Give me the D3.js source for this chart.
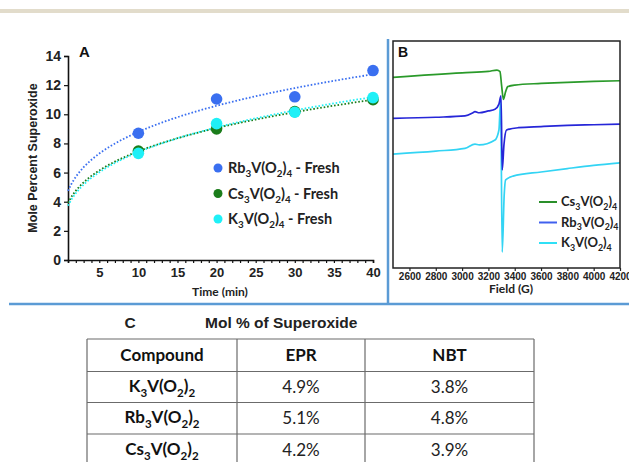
<!DOCTYPE html>
<html>
<head>
<meta charset="utf-8">
<script src="https://cdn.jsdelivr.net/npm/d3@7"></script>
<style>
  body { margin: 0; background: #fff; }
  svg { display: block; }
</style>
</head>
<body>
<div id="chart"></div>
<script>
// ---- panel A data: mole percent superoxide vs time ----
var timeMin = [10, 20, 30, 40];
var rbFresh = [8.7, 11.05, 11.2, 13.0];
var csFresh = [7.48, 9.0, 10.18, 11.0];
var kFresh  = [7.32, 9.36, 10.14, 11.14];
var timeTicks = [5, 10, 15, 20, 25, 30, 35, 40];
var pctTicks = [0, 2, 4, 6, 8, 10, 12, 14];

// ---- panel B data: EPR spectra (field in G, signal in a.u.) ----
var csField = [2475, 3000, 3200, 3265, 3288, 3300, 3314, 3330, 3347, 3400, 3600, 3800, 4000, 4200];
var csSignal = [84.0, 86.0, 86.6, 87.2, 86.5, 80.6, 74.3, 77.5, 79.9, 80.6, 81.3, 81.8, 82.2, 82.5];
var rbField = [2475, 2800, 3022, 3080, 3098, 3130, 3200, 3250, 3280, 3296, 3305, 3318, 3338, 3427, 3600, 3800, 4000, 4200];
var rbSignal = [65.9, 66.4, 67.0, 68.3, 68.9, 68.4, 69.2, 69.9, 72.2, 75.8, 43.2, 54.2, 60.8, 61.8, 62.3, 62.8, 63.1, 63.4];
var kField = [2475, 2800, 3022, 3098, 3130, 3250, 3280, 3293, 3305, 3320, 3331, 3387, 3600, 3800, 4000, 4200];
var kSignal = [50.2, 51.5, 52.7, 54.6, 54.2, 56.4, 60.8, 74.0, 7.0, 32.2, 38.8, 40.5, 42.3, 43.8, 45.2, 46.3];
var fieldTicks = [2600, 2800, 3000, 3200, 3400, 3600, 3800, 4000, 4200];

// ---- panel C data: table ----
var tableHeader = ["Compound", "EPR", "NBT"];
var compounds = ["K_3V(O_2)_2", "Rb_3V(O_2)_2", "Cs_3V(O_2)_2"];
var eprPct = ["4.9%", "5.1%", "4.2%"];
var nbtPct = ["3.8%", "4.8%", "3.9%"];

var W = 629, H = 462;
var svg = d3.select("#chart").append("svg").attr("width", W).attr("height", H);

// write a formula like "Rb_3V(O_2)_4" with real subscripts
function formula(sel, str, size) {
	var parts = str.split(/(_\d)/).filter(function(s) { return s.length; });
	var down = false;
	parts.forEach(function(p) {
		var sub = p[0] === "_";
		var t = sel.append("tspan").text(sub ? p.slice(1) : p)
			.attr("font-size", sub ? size * 0.68 : size);
		if (sub && !down) { t.attr("dy", size * 0.3); down = true; }
		else if (!sub && down) { t.attr("dy", -size * 0.3); down = false; }
	});
}

// frame decoration
svg.append("rect").attr("x", 0).attr("y", 9).attr("width", W).attr("height", 4).attr("fill", "#e2dccb");
svg.append("line").attr("x1", 388).attr("x2", 388).attr("y1", 39).attr("y2", 304)
	.attr("stroke", "#5b9bd5").attr("stroke-width", 2.5);
svg.append("line").attr("x1", 9).attr("x2", W).attr("y1", 304).attr("y2", 304)
	.attr("stroke", "#5b9bd5").attr("stroke-width", 2.5);

// ================= panel A =================
var xA = d3.scaleLinear().domain([1, 40]).range([68, 373]);
var yA = d3.scaleLinear().domain([0, 14]).range([260, 56]);
var gA = svg.append("g").style("font-family", "'Liberation Sans', Arial, sans-serif");

var yAxisA = gA.append("g").attr("transform", "translate(68,0)")
	.call(d3.axisLeft(yA).tickValues(pctTicks).tickSize(4).tickPadding(3));
var xAxisA = gA.append("g").attr("transform", "translate(0,260)")
	.call(d3.axisBottom(xA).tickValues(d3.range(1, 41)).tickSize(3)
		.tickFormat(function(d) { return timeTicks.indexOf(d) >= 0 ? d : ""; }).tickPadding(5));
[yAxisA, xAxisA].forEach(function(a, i) {
	a.select(".domain").attr("stroke", "#111").attr("stroke-width", 1.6);
	a.selectAll(".tick line").attr("stroke", "#111").attr("stroke-width", 1.2);
	a.selectAll("text").attr("font-size", i === 0 ? 14 : 13).attr("font-weight", "bold").attr("fill", "#222")
		.style("font-family", "'Liberation Sans', Arial, sans-serif");
});

gA.append("text").attr("x", 79).attr("y", 57).text("A")
	.attr("font-size", 15).attr("font-weight", "bold").attr("fill", "#111");
gA.append("text").attr("transform", "translate(37,158) rotate(-90)")
	.attr("text-anchor", "middle").attr("font-size", 12.5).attr("font-weight", "bold").attr("fill", "#222")
	.text("Mole Percent Superoxide");
gA.append("text").attr("x", 220).attr("y", 296).attr("text-anchor", "middle")
	.attr("font-size", 12).attr("font-weight", "bold").attr("fill", "#222")
	.style("font-family", "Lato, sans-serif").text("Time (min)");

var seriesA = [
	{ name: "Rb_3V(O_2)_4 - Fresh", vals: rbFresh, color: "#3a6ff0" },
	{ name: "Cs_3V(O_2)_4 - Fresh", vals: csFresh, color: "#1b7d1b" },
	{ name: "K_3V(O_2)_4 - Fresh", vals: kFresh, color: "#1ff0f7" }
];

// least-squares power trendline, y = c * x^k, like the spreadsheet fit
function powerFit(xs, ys) {
	var lx = xs.map(Math.log), ly = ys.map(Math.log);
	var mx = d3.mean(lx), my = d3.mean(ly);
	var k = d3.sum(lx, function(v, i) { return (v - mx) * (ly[i] - my); }) /
		d3.sum(lx, function(v) { return (v - mx) * (v - mx); });
	var c = Math.exp(my - k * mx);
	return function(x) { return c * Math.pow(x, k); };
}
var trendX = d3.range(1, 40.01, 0.5);
var lineA = d3.line().x(function(d) { return xA(d[0]); }).y(function(d) { return yA(d[1]); });

seriesA.forEach(function(s) {
	var f = powerFit(timeMin, s.vals);
	gA.append("path").datum(trendX.map(function(x) { return [x, f(x)]; }))
		.attr("d", lineA).attr("fill", "none").attr("stroke", s.color)
		.attr("stroke-width", 1.8).attr("stroke-dasharray", "1.6,1.9");
});
seriesA.forEach(function(s) {
	gA.selectAll(null).data(s.vals).enter().append("circle")
		.attr("cx", function(d, i) { return xA(timeMin[i]); })
		.attr("cy", function(d) { return yA(d); })
		.attr("r", 5.8).attr("fill", s.color);
});

var legA = gA.append("g");
seriesA.forEach(function(s, i) {
	var y = 168 + i * 25.5;
	legA.append("circle").attr("cx", 218).attr("cy", y).attr("r", 4.5).attr("fill", s.color);
	var t = legA.append("text").attr("x", 228).attr("y", y + 5)
		.attr("font-weight", "bold").attr("fill", "#222").style("font-family", "Lato, sans-serif");
	formula(t, s.name, 14.5);
});

// ================= panel B =================
var xB = d3.scaleLinear().domain([2475, 4200]).range([393, 620]);
var yB = d3.scaleLinear().domain([0, 100]).range([268, 41]);
var gB = svg.append("g");

var seriesB = [
	{ name: "Cs_3V(O_2)_4", field: csField, sig: csSignal, color: "#2a9a2a" },
	{ name: "Rb_3V(O_2)_4", field: rbField, sig: rbSignal, color: "#2626d8" },
	{ name: "K_3V(O_2)_4", field: kField, sig: kSignal, color: "#33d4f4" }
];
var lineB = d3.line().curve(d3.curveMonotoneX)
	.x(function(d) { return xB(d[0]); }).y(function(d) { return yB(d[1]); });
[2, 1, 0].forEach(function(i) {
	var s = seriesB[i];
	gB.append("path").datum(s.field.map(function(f, j) { return [f, s.sig[j]]; }))
		.attr("d", lineB).attr("fill", "none").attr("stroke", s.color).attr("stroke-width", 1.7);
});

gB.append("rect").attr("x", 393).attr("y", 41).attr("width", 227).attr("height", 227)
	.attr("fill", "none").attr("stroke", "#222").attr("stroke-width", 1.5);
var xAxisB = gB.append("g").attr("transform", "translate(0,268)")
	.call(d3.axisBottom(xB).tickValues(fieldTicks).tickSize(3).tickPadding(2).tickFormat(d3.format("d")));
xAxisB.select(".domain").remove();
xAxisB.selectAll(".tick line").attr("stroke", "#222").attr("stroke-width", 1.2);
xAxisB.selectAll("text").attr("font-size", 10).attr("font-weight", "bold").attr("fill", "#222")
	.style("font-family", "'Liberation Sans Narrow', 'Liberation Sans', Arial, sans-serif");
gB.append("text").attr("x", 511).attr("y", 293).attr("text-anchor", "middle")
	.attr("font-size", 12).attr("font-weight", "bold").attr("fill", "#222")
	.style("font-family", "Lato, sans-serif").text("Field (G)");
gB.append("text").attr("x", 398).attr("y", 57).text("B")
	.attr("font-size", 14).attr("font-weight", "bold").attr("fill", "#111")
	.style("font-family", "'Liberation Sans', Arial, sans-serif");

var legColors = ["#2a8f2a", "#4060ee", "#2fe0f6"];
seriesB.forEach(function(s, i) {
	var y = 202 + i * 20.5;
	gB.append("line").attr("x1", 539).attr("x2", 557).attr("y1", y).attr("y2", y)
		.attr("stroke", legColors[i]).attr("stroke-width", 2);
	var t = gB.append("text").attr("x", 561).attr("y", y + 4)
		.attr("font-weight", "bold").attr("fill", "#222").style("font-family", "Lato, sans-serif");
	formula(t, s.name, 13);
});

// ================= panel C: table =================
var gC = svg.append("g").style("font-family", "Lato, sans-serif");
gC.append("text").attr("x", 130).attr("y", 328).attr("text-anchor", "middle")
	.attr("font-size", 15.5).attr("font-weight", "bold").attr("fill", "#222")
	.style("font-family", "'Liberation Sans Narrow', 'Liberation Sans', Arial, sans-serif").text("C");
gC.append("text").attr("x", 205).attr("y", 328)
	.attr("font-size", 15.5).attr("font-weight", "bold").attr("fill", "#222")
	.style("font-family", "'Liberation Sans Narrow', 'Liberation Sans', Arial, sans-serif").text("Mol % of Superoxide");

var colEdges = [87, 237, 365, 534];
var rowEdges = [339, 371.5, 402.5, 434, 466];
var tbl = gC.append("g").attr("stroke", "#6b6b6b").attr("stroke-width", 1.2);
rowEdges.forEach(function(y) {
	tbl.append("line").attr("x1", colEdges[0]).attr("x2", colEdges[3]).attr("y1", y).attr("y2", y);
});
colEdges.forEach(function(x) {
	tbl.append("line").attr("x1", x).attr("x2", x).attr("y1", rowEdges[0]).attr("y2", rowEdges[4]);
});
function colMid(c) { return (colEdges[c] + colEdges[c + 1]) / 2; }
function rowMid(r) { return (rowEdges[r] + rowEdges[r + 1]) / 2; }

tableHeader.forEach(function(h, c) {
	gC.append("text").attr("x", colMid(c)).attr("y", rowMid(0) + 6).attr("text-anchor", "middle")
		.attr("font-size", 17).attr("font-weight", "bold").attr("fill", "#111").text(h);
});
compounds.forEach(function(name, r) {
	var t = gC.append("text").attr("x", colMid(0)).attr("y", rowMid(r + 1) + 5).attr("text-anchor", "middle")
		.attr("font-weight", "bold").attr("fill", "#111");
	formula(t, name, 17);
	gC.append("text").attr("x", colMid(1)).attr("y", rowMid(r + 1) + 6).attr("text-anchor", "middle")
		.attr("font-size", 17).attr("fill", "#222").text(eprPct[r]);
	gC.append("text").attr("x", colMid(2)).attr("y", rowMid(r + 1) + 6).attr("text-anchor", "middle")
		.attr("font-size", 17).attr("fill", "#222").text(nbtPct[r]);
});
</script>
</body>
</html>
